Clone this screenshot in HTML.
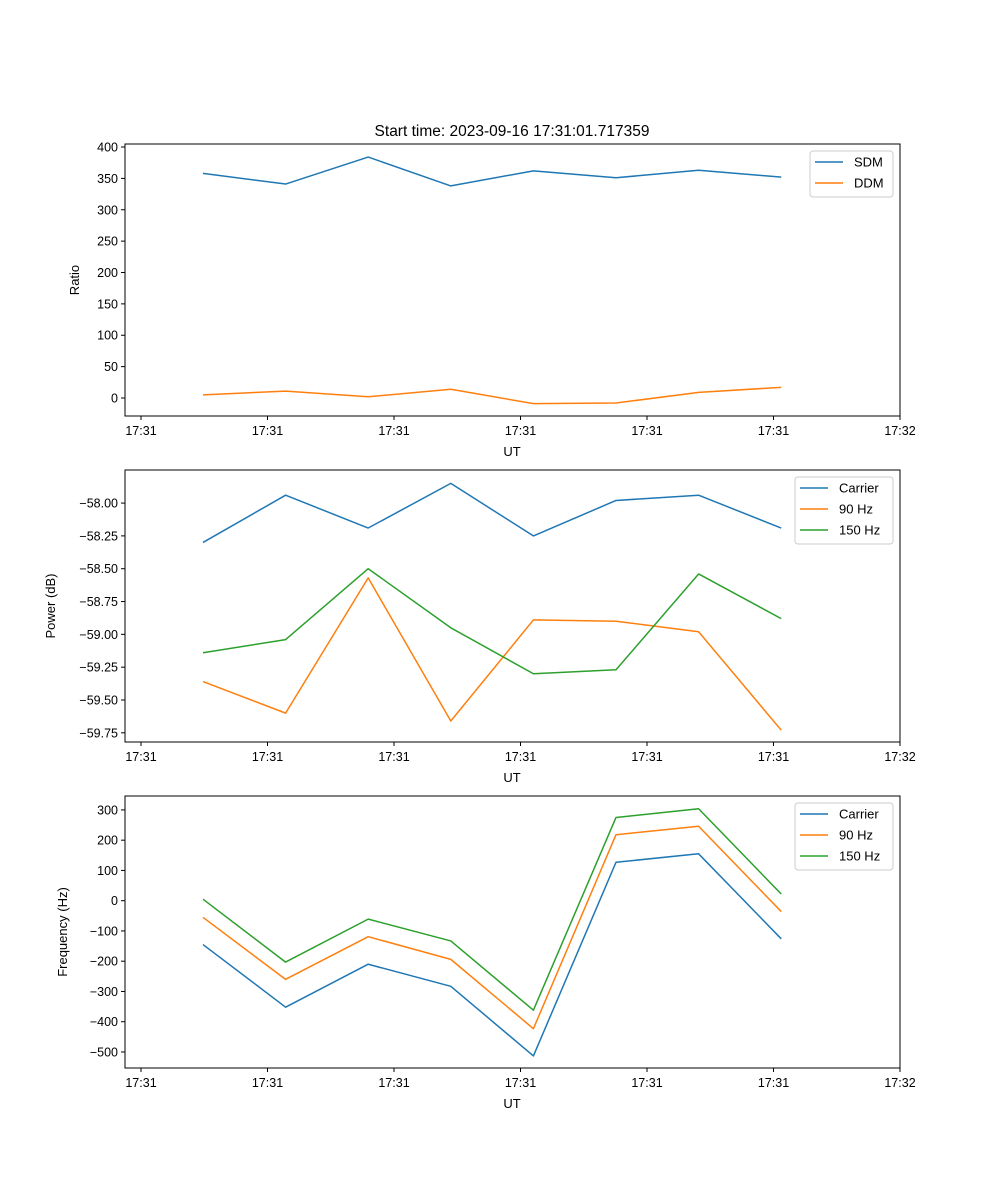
<!DOCTYPE html>
<html><head><meta charset="utf-8"><style>
html,body{margin:0;padding:0;background:#fff}
svg{display:block;font-family:"Liberation Sans","DejaVu Sans",sans-serif}
</style></head><body>
<svg id="c" width="1000" height="1200" viewBox="0 0 1000 1200"></svg>
<script>
const tickLabels = ["17:31","17:31","17:31","17:31","17:31","17:31","17:32"];
const tickTimes = [0,1,2,3,4,5,6];
const sampleTimes = [0.49,1.143,1.796,2.449,3.102,3.755,4.408,5.061];
const sdm = [358,341,384,338,362,351,363,352];
const ddm = [5,11,2,14,-9,-8,9,17];
const powCarrier = [-58.30,-57.94,-58.19,-57.85,-58.25,-57.98,-57.94,-58.19];
const pow90 = [-59.36,-59.60,-58.57,-59.66,-58.89,-58.90,-58.98,-59.73];
const pow150 = [-59.14,-59.04,-58.50,-58.95,-59.30,-59.27,-58.54,-58.88];
const freqCarrier = [-145,-352,-210,-283,-513,127,155,-126];
const freq90 = [-55,-260,-119,-194,-423,218,246,-36];
const freq150 = [5,-203,-61,-133,-362,275,304,22];
const ticks1 = [0,50,100,150,200,250,300,350,400];
const ticks2 = [-59.75,-59.5,-59.25,-59.0,-58.75,-58.5,-58.25,-58.0];
const ticks3 = [-500,-400,-300,-200,-100,0,100,200,300];
const colors = {blue:"#1f77b4",orange:"#ff7f0e",green:"#2ca02c"};

const svg = document.getElementById('c');
const NS = "http://www.w3.org/2000/svg";
function mk(tag, attrs, parent){const e=document.createElementNS(NS,tag);for(const k in attrs)e.setAttribute(k,attrs[k]);(parent||svg).appendChild(e);return e;}
const X0=125,X1=900;
function xs(t){return 141+126.5*t;}

function panel(name, top, ymin, ymax, yticks, fmt, ylabel, ylabelX, series, legend){
  const bot=top+272;
  const g=mk('g',{});
  
  
  const ys=v=>bot-(v-ymin)/(ymax-ymin)*272;
  series.forEach(s=>{
    const d=s.vals.map((v,i)=>(i?'L':'M')+xs(sampleTimes[i]).toFixed(2)+' '+ys(v).toFixed(2)).join(' ');
    const p=mk('path',{d:d,fill:'none',stroke:s.color,'stroke-width':1.5,'stroke-linejoin':'round'},g);
    
    
  });
  const fr=mk('rect',{x:X0,y:top,width:X1-X0,height:272,fill:'none',stroke:'#000','stroke-width':1},g);
  
  
  tickTimes.forEach((t,i)=>{
    const x=xs(t);
    mk('line',{x1:x,x2:x,y1:bot,y2:bot+4,stroke:'#000'},g);
    const tx=mk('text',{x:x,y:bot+19,'font-size':12.5,'text-anchor':'middle'},g);tx.textContent=tickLabels[i];
    
    
  });
  const xl=mk('text',{x:512,y:bot+40,'font-size':13,'text-anchor':'middle'},g);xl.textContent='UT';
  
  
  yticks.forEach(v=>{
    const y=ys(v);
    mk('line',{x1:X0-4,x2:X0,y1:y,y2:y,stroke:'#000'},g);
    const tx=mk('text',{x:X0-7,y:y+4.5,'font-size':12.5,'text-anchor':'end'},g);tx.textContent=fmt(v).replace('-','\u2212');
    
    
  });
  const yl=mk('text',{x:ylabelX,y:(top+bot)/2,'font-size':13,'text-anchor':'middle',transform:`rotate(-90 ${ylabelX} ${(top+bot)/2})`},g);yl.textContent=ylabel;
  
  
  const lg=mk('g',{},g);
  
  
  mk('rect',{x:legend.x,y:top+7,width:legend.w,height:series.length*21+4,rx:3,fill:'#fff',stroke:'#ccc'},lg);
  series.forEach((s,i)=>{
    const y=top+18+i*21;
    mk('line',{x1:legend.x+5,x2:legend.x+33,y1:y,y2:y,stroke:s.color,'stroke-width':1.5},lg);
    const t=mk('text',{x:legend.x+44,y:y+4.5,'font-size':13},lg);t.textContent=s.label;
    
    
  });
}
const title=mk('text',{x:512,y:136,'font-size':15.5,'text-anchor':'middle'});
title.textContent='Start time: 2023-09-16 17:31:01.717359';



panel('ratio-panel',144,-28.7,404.8,ticks1,v=>String(v),'Ratio',79,
 [{key:'sdm',label:'SDM',vals:sdm,color:colors.blue},{key:'ddm',label:'DDM',vals:ddm,color:colors.orange}],{x:810,w:83});
panel('power-panel',470,-59.82,-57.748,ticks2,v=>v.toFixed(2),'Power (dB)',55,
 [{key:'power-carrier',label:'Carrier',vals:powCarrier,color:colors.blue},{key:'power-90hz',label:'90 Hz',vals:pow90,color:colors.orange},{key:'power-150hz',label:'150 Hz',vals:pow150,color:colors.green}],{x:795,w:98});
panel('frequency-panel',796,-553,346,ticks3,v=>String(v),'Frequency (Hz)',67,
 [{key:'freq-carrier',label:'Carrier',vals:freqCarrier,color:colors.blue},{key:'freq-90hz',label:'90 Hz',vals:freq90,color:colors.orange},{key:'freq-150hz',label:'150 Hz',vals:freq150,color:colors.green}],{x:795,w:98});
</script>
</body></html>
